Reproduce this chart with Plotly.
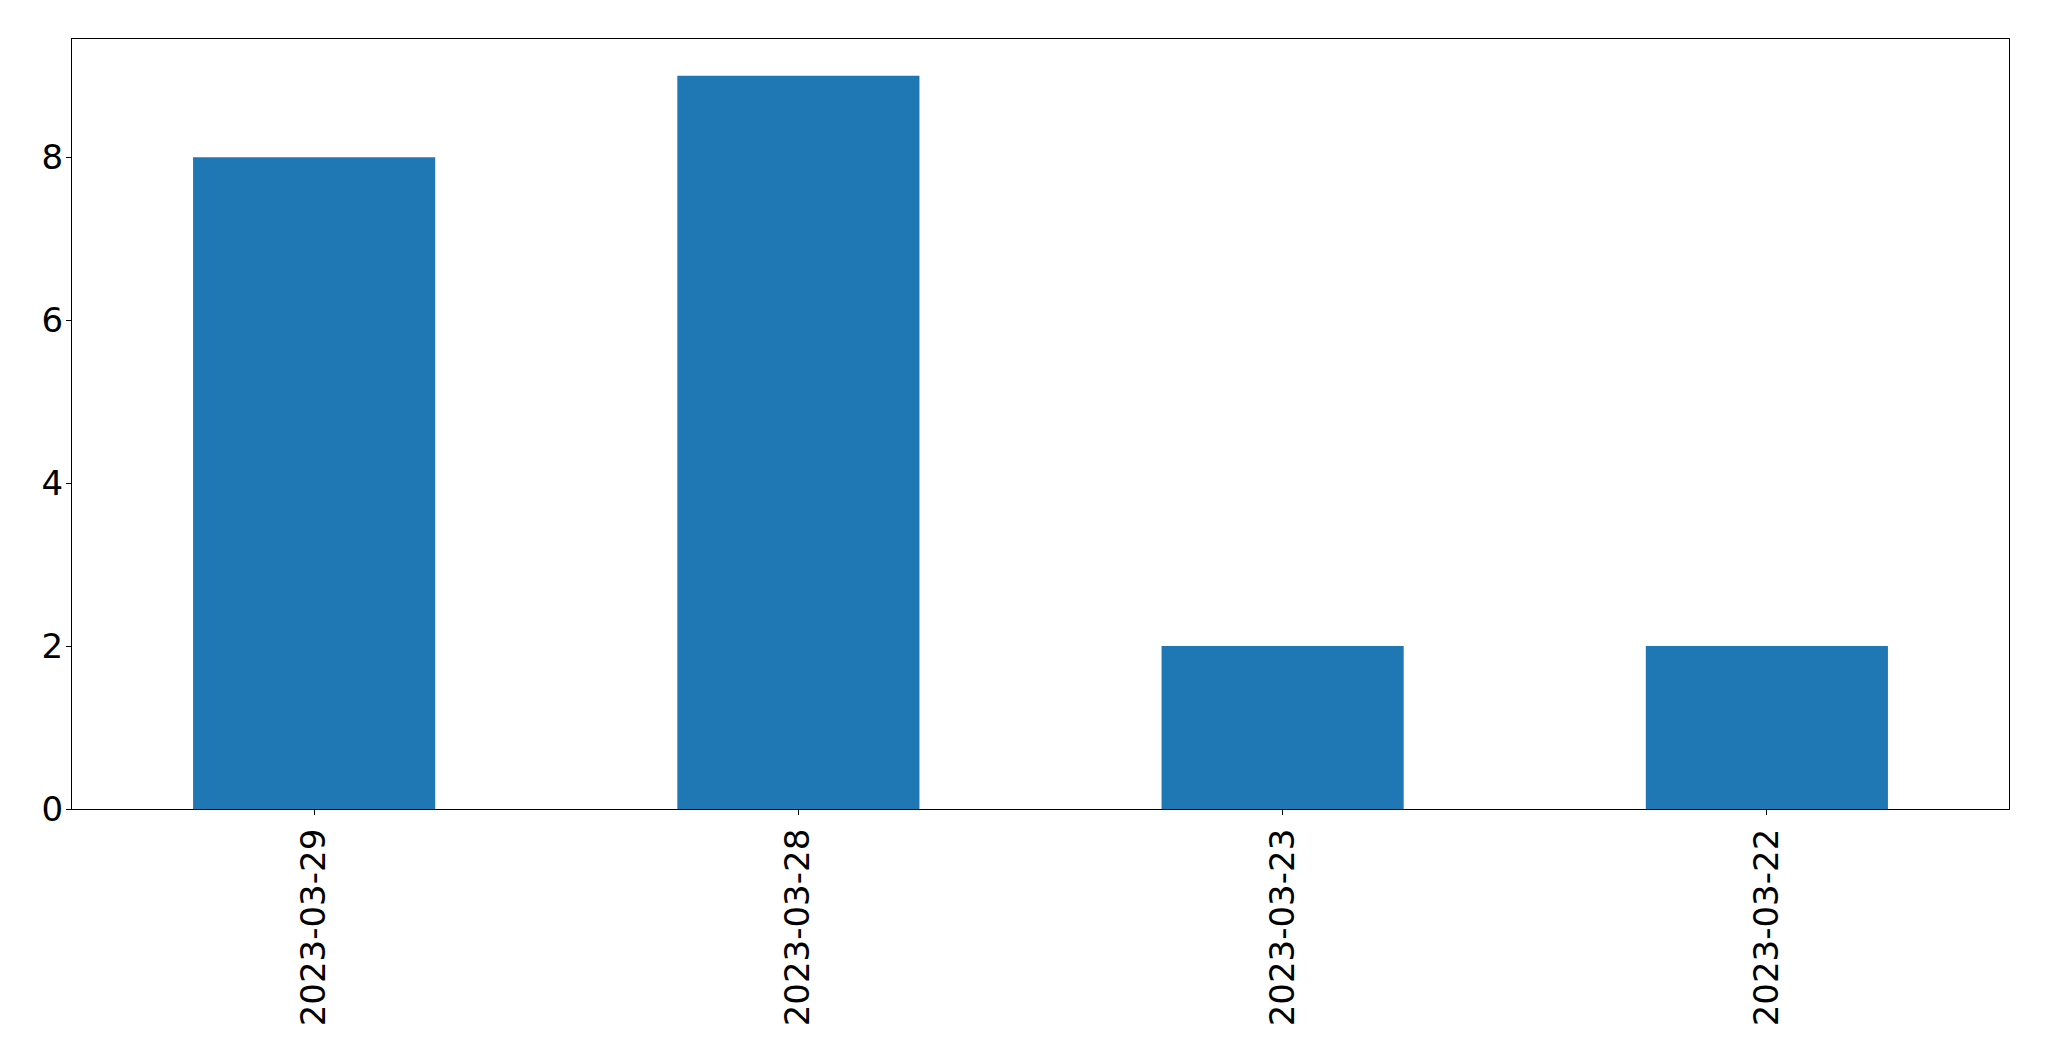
import plotly.graph_objects as go

categories = ["2023-03-29", "2023-03-28", "2023-03-23", "2023-03-22"]
values = [8, 9, 2, 2]
y_ticks = [0, 2, 4, 6, 8]

fig = go.Figure(go.Bar(x=categories, y=values, width=0.5, marker=dict(color="#1f77b4", line=dict(width=0))))

axis_common = dict(showline=True, mirror=True, linecolor="black", linewidth=1.3,
                   ticks="outside", ticklen=5, tickwidth=1.3, tickcolor="black",
                   showgrid=False, zeroline=False,
                   tickfont=dict(family="DejaVu Sans", size=34, color="black"))

fig.update_layout(
    width=2049, height=1061,
    margin=dict(l=64, r=48, t=31, b=260),
    plot_bgcolor="white", paper_bgcolor="white",
    showlegend=False,
    xaxis=dict(type="category", range=[-0.5, 3.5], tickangle=-90, **axis_common),
    yaxis=dict(range=[0, 9.45], tickvals=y_ticks, ticklabelstandoff=-4, **axis_common),
)

fig.write_html("out.html")
